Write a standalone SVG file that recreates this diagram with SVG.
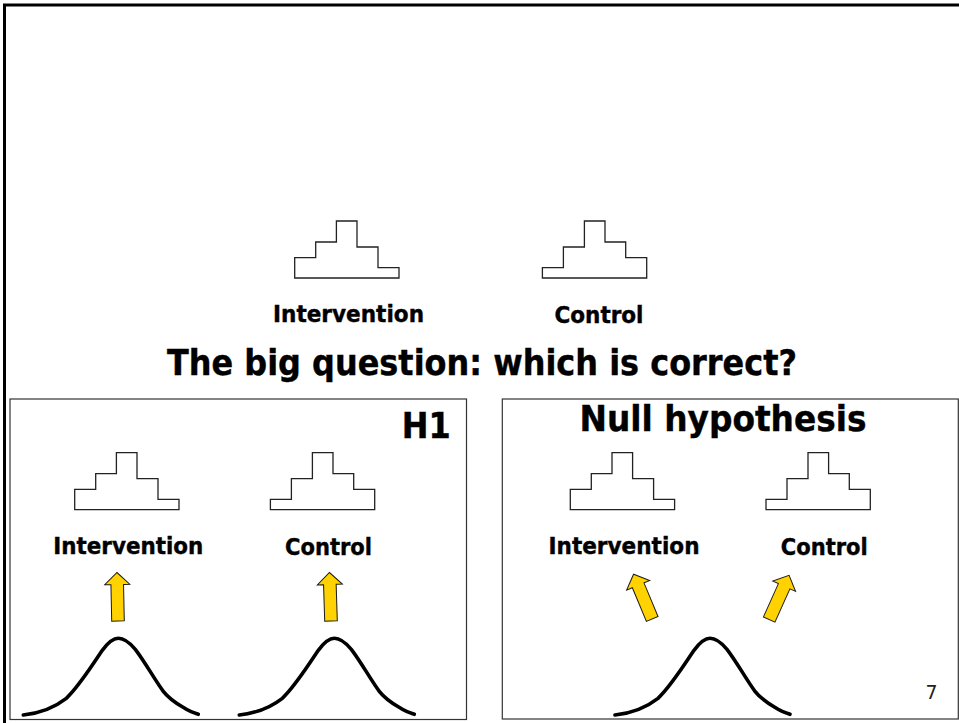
<svg xmlns="http://www.w3.org/2000/svg" xmlns:xlink="http://www.w3.org/1999/xlink" width="959" height="723" viewBox="0 0 959 723">
<style>
.stair{fill:#fff;stroke:#222;stroke-width:1.3}
.panel{fill:#fff;stroke:#333;stroke-width:1.2}
.lbl{font-family:"DejaVu Sans","Verdana",sans-serif;font-weight:bold;fill:#000;stroke:#000;stroke-width:0.4}
.bell{fill:none;stroke:#000;stroke-width:3.6;stroke-linecap:round;stroke-linejoin:round}
.arr{fill:#FFD200;stroke:#1a1a1a;stroke-width:1}
</style>
<defs>
<path id="stairI" d="M0,0 V-20.4 H21 V-36 H41.7 V-57 H62.3 V-31 H83.3 V-10.4 H104.3 V0 Z"/>
<path id="bellC" d="M-95,76.7 C-80,75 -66,71 -52,60 C-40,49 -26,27 -16,12 C-10,4 -5,0 0,0 C6,0 11,4 17,11 C27,24 36,41 45,53 C52,62 60,66 68,71 C73,74 77,75 80,76"/>
<path id="arrowU" d="M-6.3,0 L-6.3,-36.5 L-12.5,-36.5 L0,-48.5 L12.5,-36.5 L6.3,-36.5 L6.3,0 Z"/>
</defs>
<rect x="0" y="0" width="959" height="723" fill="#fff"/>
<path d="M4.5,723 V5 H959" fill="none" stroke="#000" stroke-width="3"/>

<g id="top-intervention">
<use xlink:href="#stairI" class="stair" transform="translate(294.7,278)"/>
<text class="lbl" x="348.5" y="322" font-size="23" text-anchor="middle" textLength="151" lengthAdjust="spacingAndGlyphs">Intervention</text>
</g>
<g id="top-control">
<use xlink:href="#stairI" class="stair" transform="translate(646.7,278) scale(-1,1)"/>
<text class="lbl" x="599" y="323" font-size="23" text-anchor="middle" textLength="89" lengthAdjust="spacingAndGlyphs">Control</text>
</g>
<g id="title">
<text class="lbl" x="482" y="375" font-size="35" text-anchor="middle" textLength="630" lengthAdjust="spacingAndGlyphs">The big question: which is correct?</text>
</g>

<g id="panel-h1">
<rect class="panel" x="10" y="399" width="456.5" height="320.5"/>
<text class="lbl" x="450.7" y="438.3" font-size="35" text-anchor="end" textLength="49" lengthAdjust="spacingAndGlyphs">H1</text>
</g>
<g id="h1-intervention">
<use xlink:href="#stairI" class="stair" transform="translate(74.7,509.7)"/>
<text class="lbl" x="128.3" y="554" font-size="23" text-anchor="middle" textLength="150" lengthAdjust="spacingAndGlyphs">Intervention</text>
</g>
<g id="h1-control">
<use xlink:href="#stairI" class="stair" transform="translate(374.7,509.7) scale(-1,1)"/>
<text class="lbl" x="328.5" y="555" font-size="23" text-anchor="middle" textLength="87" lengthAdjust="spacingAndGlyphs">Control</text>
</g>
<g id="h1-dist-left">
<use xlink:href="#bellC" class="bell" transform="translate(118.3,638.3)"/>
</g>
<g id="h1-dist-right">
<use xlink:href="#bellC" class="bell" transform="translate(334.3,638.3)"/>
</g>

<g id="panel-null">
<rect class="panel" x="502.3" y="399" width="456" height="320"/>
<text class="lbl" x="723" y="430.7" font-size="35" text-anchor="middle" textLength="287" lengthAdjust="spacingAndGlyphs">Null hypothesis</text>
</g>
<g id="null-intervention">
<use xlink:href="#stairI" class="stair" transform="translate(570.3,509.7)"/>
<text class="lbl" x="624" y="553.5" font-size="23" text-anchor="middle" textLength="151" lengthAdjust="spacingAndGlyphs">Intervention</text>
</g>
<g id="null-control">
<use xlink:href="#stairI" class="stair" transform="translate(870.3,509.7) scale(-1,1)"/>
<text class="lbl" x="824.3" y="555" font-size="23" text-anchor="middle" textLength="87" lengthAdjust="spacingAndGlyphs">Control</text>
</g>
<g id="null-dist">
<use xlink:href="#bellC" class="bell" transform="translate(710,638.3)"/>
</g>
<g id="page-number">
<text x="931.5" y="699" font-family="'DejaVu Sans',Verdana,sans-serif" font-size="19" fill="#222" text-anchor="middle">7</text>
</g>

<g id="connectors">
<use xlink:href="#arrowU" class="arr" transform="translate(118,621) rotate(-1.2)"/>
<use xlink:href="#arrowU" class="arr" transform="translate(331,621) rotate(-1.8)"/>
<use xlink:href="#arrowU" class="arr" transform="translate(652.2,619) rotate(-22.6)"/>
<use xlink:href="#arrowU" class="arr" transform="translate(769.2,619.5) rotate(24.2)"/>
</g>
</svg>
